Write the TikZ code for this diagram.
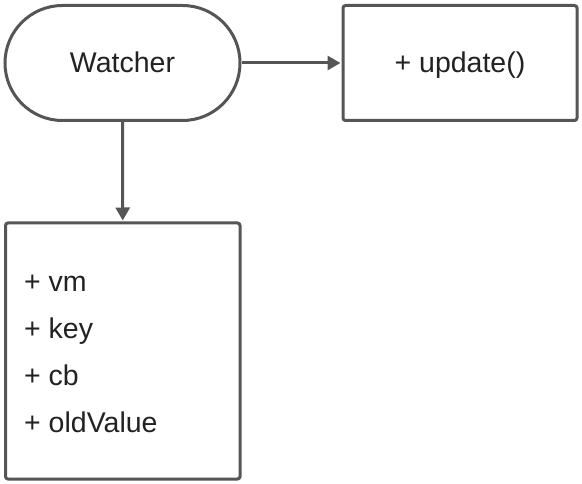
\documentclass[tikz,border=0pt]{standalone}
\usepackage{fontspec}
\setmainfont{Liberation Sans}
\usetikzlibrary{arrows.meta,shapes.misc}
\definecolor{linegray}{HTML}{555555}
\definecolor{textgray}{HTML}{222222}
\begin{document}
\begin{tikzpicture}[x=1pt,y=-1pt,
  shapebox/.style={draw=linegray, line width=3pt, fill=white, inner sep=0pt, text=textgray, font=\fontsize{28.5}{34}\selectfont, text height=20pt, text depth=0pt},
  rectbox/.style={shapebox, rectangle, rounded corners=2.5pt},
  pill/.style={shapebox, rounded rectangle},
  attr/.style={anchor=base west, inner sep=0pt, text=textgray, font=\fontsize{28.5}{34}\selectfont},
  conn/.style={draw=linegray, line width=3pt, -{Triangle[length=13pt,width=14pt]}, shorten >=1pt}]
\useasboundingbox (0,0) rectangle (582,484);
\node[pill, minimum width=235pt, minimum height=115pt] (w) at (122.5,63) {Watcher};
\node[rectbox, minimum width=234pt, minimum height=115pt] (u) at (460,63) {+ update()};
\node[rectbox, minimum width=234.5pt, minimum height=256pt] (b) at (122.75,351) {};
\node[attr] (a1) at (24,292) {+ vm};
\node[attr] (a2) at (24,338) {+ key};
\node[attr] (a3) at (24,385) {+ cb};
\node[attr] (a4) at (24,432) {+ oldValue};
\draw[conn] (w.east) -- (u.west);
\draw[conn] (w.south) -- (b.north);
\end{tikzpicture}
\end{document}
